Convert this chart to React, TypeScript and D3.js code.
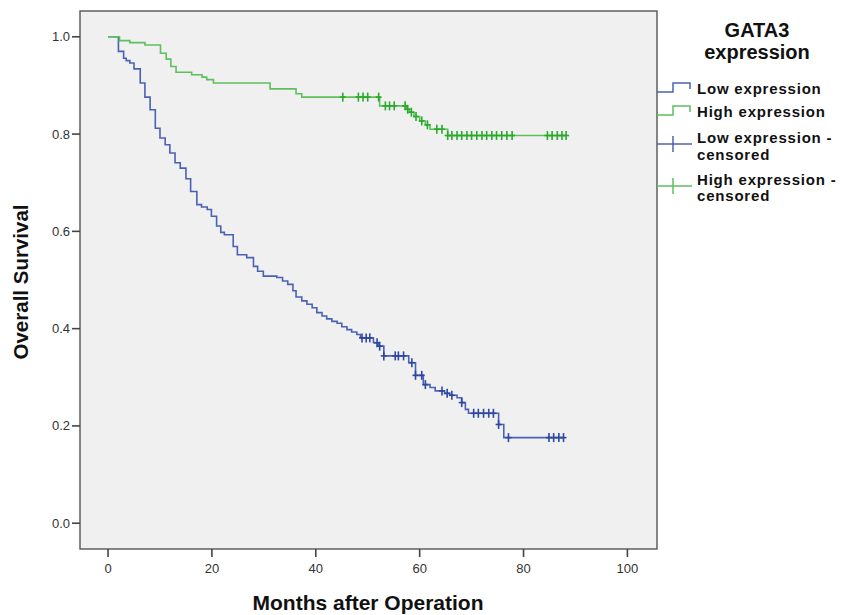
import React from 'react';
import * as d3 from 'd3';

// axis ticks
const xTicks = [0, 20, 40, 60, 80, 100];
const yTicks = [0.0, 0.2, 0.4, 0.6, 0.8, 1.0];

// Low GATA3 expression: event times (months) and survival after each step
const lowTimes = [0, 2.0, 3.0, 3.5, 4.2, 5.0, 6.2, 7.1, 8.1, 9.1, 10.0, 11.0, 11.9, 12.9, 13.9, 15.0, 15.9, 17.1, 18.0, 19.1, 19.9, 20.9, 21.7, 22.4, 24.1, 24.9, 26.7, 28.0, 28.8, 29.9, 32.5, 33.6, 34.6, 35.6, 36.2, 37.3, 38.3, 39.3, 40.2, 41.2, 42.1, 43.1, 44.1, 45.0, 46.0, 46.9, 47.9, 48.6, 51.1, 52.0, 53.1, 57.9, 59.2, 60.7, 62.0, 63.0, 64.8, 65.8, 67.2, 68.1, 68.8, 69.4, 75.2, 76.2];
const lowSurv = [1.0, 0.970, 0.956, 0.951, 0.946, 0.934, 0.905, 0.876, 0.850, 0.812, 0.792, 0.778, 0.761, 0.741, 0.730, 0.708, 0.682, 0.655, 0.650, 0.645, 0.631, 0.611, 0.598, 0.593, 0.569, 0.552, 0.546, 0.528, 0.518, 0.508, 0.505, 0.498, 0.491, 0.478, 0.465, 0.457, 0.450, 0.443, 0.433, 0.426, 0.420, 0.415, 0.411, 0.404, 0.398, 0.393, 0.388, 0.381, 0.371, 0.364, 0.344, 0.330, 0.304, 0.285, 0.279, 0.272, 0.267, 0.263, 0.258, 0.248, 0.234, 0.226, 0.203, 0.176];
const lowCensored = [48.9, 49.7, 50.4, 51.8, 52.3, 53.1, 55.3, 55.9, 56.9, 58.5, 59.2, 60.4, 61.1, 64.3, 65.3, 66.2, 68.1, 70.4, 71.3, 72.3, 73.3, 74.2, 75.2, 77.1, 84.9, 85.8, 86.8, 87.7];

// High GATA3 expression
const highTimes = [0, 2.2, 4.2, 7.1, 10.1, 11.2, 12.1, 13.1, 16.1, 18.1, 19.0, 20.3, 31.2, 36.2, 37.3, 52.3, 57.4, 58.0, 58.9, 60.0, 61.1, 62.0, 65.4];
const highSurv = [1.0, 0.992, 0.988, 0.983, 0.966, 0.954, 0.939, 0.927, 0.922, 0.917, 0.912, 0.905, 0.893, 0.883, 0.876, 0.858, 0.851, 0.845, 0.836, 0.827, 0.819, 0.810, 0.797];
const highCensored = [45.2, 48.2, 49.1, 50.0, 52.1, 53.4, 54.2, 55.1, 57.2, 57.7, 58.4, 59.3, 60.4, 61.5, 63.3, 64.3, 65.4, 66.2, 67.2, 68.1, 69.1, 70.0, 71.0, 72.0, 72.9, 73.9, 74.8, 75.8, 76.8, 77.8, 84.6, 85.5, 86.5, 87.4, 88.2];

const LOW_LINE = '#4a62b4';
const LOW_MARK = '#2e47a2';
const HIGH_LINE = '#5cc05c';
const HIGH_MARK = '#2aa82a';
const FONT = '"Liberation Sans", Arial, Helvetica, sans-serif';

const frame = { left: 80, top: 11, right: 657, bottom: 549 };

function survAt(times: number[], surv: number[], t: number) {
  let v = surv[0];
  for (let i = 0; i < times.length; i++) if (times[i] <= t + 1e-9) v = surv[i];
  return v;
}

export default function App() {
  const x = d3.scaleLinear().domain([-5.4, 105.7]).range([frame.left, frame.right]);
  const y = d3.scaleLinear().domain([-0.053, 1.053]).range([frame.bottom, frame.top]);

  const line = d3.line<[number, number]>()
    .x(d => x(d[0]))
    .y(d => y(d[1]))
    .curve(d3.curveStepAfter);

  const series = [
    { times: lowTimes, surv: lowSurv, cens: lowCensored, lc: LOW_LINE, mc: LOW_MARK },
    { times: highTimes, surv: highSurv, cens: highCensored, lc: HIGH_LINE, mc: HIGH_MARK },
  ];

  return (
    <svg width={854} height={615} style={{ position: 'absolute', left: 0, top: 0, background: '#fff' }} fontFamily={FONT}>
      <rect x={frame.left} y={frame.top} width={frame.right - frame.left} height={frame.bottom - frame.top}
        fill="#f0f0f0" stroke="#555" strokeWidth={1.4} />

      {series.map((s, k) => {
        const last = Math.max(s.times[s.times.length - 1], d3.max(s.cens) || 0);
        const pts: [number, number][] = s.times.map((t, i) => [t, s.surv[i]] as [number, number]);
        pts.push([last, s.surv[s.surv.length - 1]]);
        return (
          <g key={k}>
            <path d={line(pts) || ''} fill="none" stroke={s.lc} strokeWidth={1.6} />
            {s.cens.map((t, i) => {
              const cx = x(t), cy = y(survAt(s.times, s.surv, t));
              return (
                <g key={i} stroke={s.mc} strokeWidth={1.6}>
                  <line x1={cx} x2={cx} y1={cy - 4.5} y2={cy + 4.5} />
                  <line x1={cx - 3} x2={cx + 3} y1={cy} y2={cy} />
                </g>
              );
            })}
          </g>
        );
      })}

      {/* y axis */}
      {yTicks.map(v => (
        <g key={v}>
          <line x1={frame.left - 8} x2={frame.left} y1={y(v)} y2={y(v)} stroke="#444" strokeWidth={1.6} />
          <text x={frame.left - 10} y={y(v) + 4.5} textAnchor="end" fontSize={13} fill="#333">{v.toFixed(1)}</text>
        </g>
      ))}
      {/* x axis */}
      {xTicks.map(v => (
        <g key={v}>
          <line x1={x(v)} x2={x(v)} y1={frame.bottom} y2={frame.bottom + 8} stroke="#444" strokeWidth={1.6} />
          <text x={x(v)} y={frame.bottom + 24} textAnchor="middle" fontSize={13} fill="#333">{v}</text>
        </g>
      ))}

      <text x={368} y={610} textAnchor="middle" fontSize={21} fontWeight="bold" fill="#111">Months after Operation</text>
      <text transform="translate(28,282) rotate(-90)" textAnchor="middle" fontSize={20.5} fontWeight="bold" fill="#111">Overall Survival</text>

      {/* legend */}
      <text x={757} y={37} textAnchor="middle" fontSize={20} fontWeight="bold" fill="#111">GATA3</text>
      <text x={757} y={59} textAnchor="middle" fontSize={20} fontWeight="bold" fill="#111">expression</text>

      <path d="M657,92H673V83H690V89" fill="none" stroke={LOW_LINE} strokeWidth={1.5} />
      <path d="M657,115H673V106H690V112" fill="none" stroke={HIGH_LINE} strokeWidth={1.5} />
      <g stroke={LOW_LINE} strokeWidth={1.5}>
        <line x1={657} x2={692} y1={144} y2={144} />
        <line x1={673} x2={673} y1={136} y2={152} />
      </g>
      <g stroke={HIGH_LINE} strokeWidth={1.5}>
        <line x1={657} x2={692} y1={186} y2={186} />
        <line x1={673} x2={673} y1={178} y2={194} />
      </g>
      <g fontSize={15} fontWeight="bold" fill="#111" letterSpacing={0.8}>
        <text x={697} y={94}>Low expression</text>
        <text x={697} y={117}>High expression</text>
        <text x={697} y={143}>Low expression -</text>
        <text x={697} y={160}>censored</text>
        <text x={697} y={185}>High expression -</text>
        <text x={697} y={201}>censored</text>
      </g>
    </svg>
  );
}
